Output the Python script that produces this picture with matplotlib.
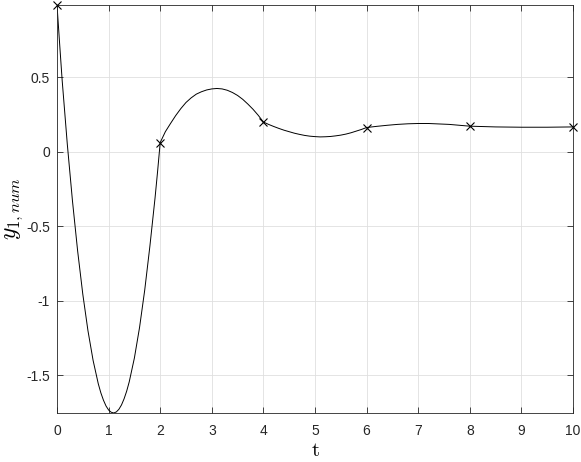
import matplotlib
matplotlib.use("Agg")
import matplotlib.pyplot as plt
from matplotlib.ticker import FuncFormatter

plt.rcParams['font.family'] = ['Liberation Sans', 'DejaVu Sans']
plt.rcParams['mathtext.fontset'] = 'cm'
plt.rcParams['axes.unicode_minus'] = False

# curve values
t = [0.0, 0.05, 0.1, 0.2, 0.3, 0.4, 0.5, 0.6, 0.7, 0.8, 0.85, 0.9, 0.95,
     1.0, 1.05, 1.1, 1.15, 1.2, 1.25, 1.3, 1.35, 1.4, 1.5, 1.6, 1.7, 1.8, 1.9, 1.95,
     2.0, 2.1, 2.2, 2.3, 2.4, 2.5, 2.6, 2.7, 2.8, 2.9,
     3.0, 3.1, 3.2, 3.3, 3.4, 3.5, 3.6, 3.7, 3.8, 3.9,
     4.0, 4.1, 4.2, 4.3, 4.4, 4.5, 4.6, 4.7, 4.8, 4.9,
     5.0, 5.1, 5.2, 5.3, 5.4, 5.5, 5.6, 5.7, 5.8, 5.9,
     6.0, 6.2, 6.4, 6.6, 6.8, 7.0, 7.2, 7.4, 7.6, 7.8,
     8.0, 8.5, 9.0, 9.5, 10.0]
y1 = [0.985, 0.73, 0.48, 0.05, -0.33, -0.665, -0.955, -1.20, -1.40, -1.556, -1.617, -1.666, -1.705,
      -1.732, -1.747, -1.752, -1.745, -1.727, -1.698, -1.657, -1.606, -1.543, -1.383, -1.178, -0.928, -0.634, -0.31, -0.13,
      0.062, 0.135, 0.19, 0.243, 0.29, 0.331, 0.362, 0.387, 0.403, 0.415,
      0.422, 0.425, 0.422, 0.413, 0.398, 0.378, 0.352, 0.32, 0.285, 0.245,
      0.2, 0.184, 0.17, 0.157, 0.145, 0.135, 0.125, 0.117, 0.11, 0.105,
      0.102, 0.1, 0.101, 0.103, 0.107, 0.112, 0.119, 0.128, 0.139, 0.15,
      0.163, 0.171, 0.178, 0.184, 0.188, 0.19, 0.19, 0.187, 0.184, 0.178,
      0.172, 0.167, 0.165, 0.165, 0.167]

# nodes marked with x
t_nodes = [0, 2, 4, 6, 8, 10]
y_nodes = [0.985, 0.062, 0.2, 0.163, 0.172, 0.167]

xticks = [0, 1, 2, 3, 4, 5, 6, 7, 8, 9, 10]
yticks = [-1.5, -1, -0.5, 0, 0.5]

axcol = '#262626'

fig = plt.figure(figsize=(5.81, 4.62), dpi=100)
ax = fig.add_axes([0.0981, 0.1061, 0.8881, 0.8831])

ax.plot(t, y1, '-', color='black', linewidth=0.7)
ax.plot(t_nodes, y_nodes, 'x', color='black', markersize=5.5,
        markeredgewidth=0.8, clip_on=False, zorder=5)

ax.set_xlim(0, 10)
ax.set_ylim(min(y1), max(y1))
ax.set_xticks(xticks)
ax.set_yticks(yticks)
ax.yaxis.set_major_formatter(FuncFormatter(lambda v, p: '%g' % v))

ax.grid(True, color='#dfdfdf', linewidth=0.6)
ax.set_axisbelow(True)

ax.tick_params(direction='in', top=True, right=True, length=4, width=0.6,
               color=axcol, labelcolor=axcol, labelsize=10)
ax.tick_params(axis='x', pad=8)
ax.tick_params(axis='y', pad=5)
for s in ax.spines.values():
    s.set_color(axcol)
    s.set_linewidth(0.6)

ax.set_xlabel(r'$\mathrm{t}$', fontsize=15, labelpad=2)
ax.set_ylabel(r'$y_{1,num}$', fontsize=17, labelpad=1)

fig.savefig('out.png', dpi=100)
